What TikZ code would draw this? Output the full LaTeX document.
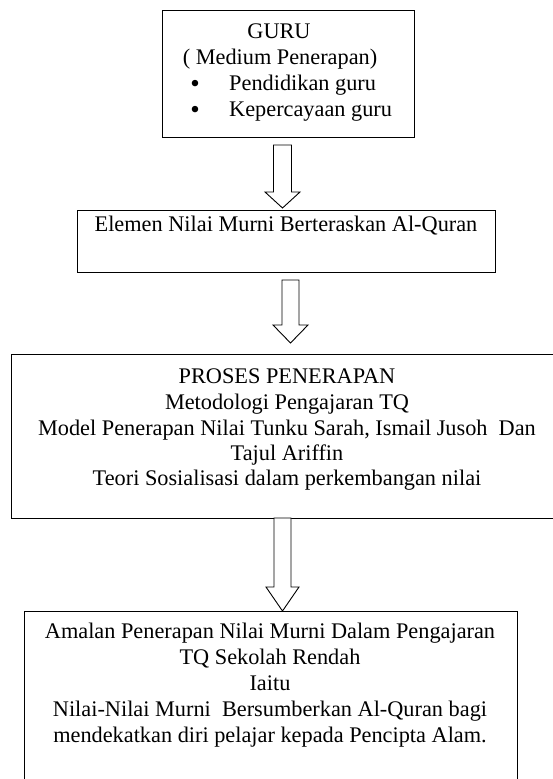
\documentclass[tikz,border=0pt]{standalone}
\usepackage{fontspec}
\setmainfont{Liberation Serif}
\usetikzlibrary{calc}
\tikzset{
  boxnode/.style={draw, line width=1.3pt, inner sep=0pt, anchor=north west},
  txt/.style={inner sep=0pt, font=\fontsize{22.3}{26}\selectfont, anchor=base},
  txtw/.style={txt, anchor=base west},
  bul/.style={inner sep=0pt, font=\fontsize{27}{27}\selectfont, anchor=base},
  barrow/.style={draw, fill=white, line width=0.9pt, line join=miter},
}
\newcommand\blockarrow[5]{%
  \draw[barrow] ($(#1)+(-#4,0)$) -- ($(#1)+(#4,0)$) -- ($(#2)+(#4,-#3)$) -- ($(#2)+(#5,-#3)$)
    -- (#2) -- ($(#2)+(-#5,-#3)$) -- ($(#2)+(-#4,-#3)$) -- cycle;}
\begin{document}
\begin{tikzpicture}[x=1pt,y=-1pt]
\useasboundingbox (0,0) rectangle (553,779);
\clip (0,0) rectangle (553,779);
% boxes
\node[boxnode, minimum width=252pt, minimum height=127pt] (b1) at (162,10) {};
\node[boxnode, minimum width=418pt, minimum height=62pt] (b2) at (77,210) {};
\node[boxnode, minimum width=560pt, minimum height=164pt] (b3) at (11,354) {};
\node[boxnode, minimum width=493pt, minimum height=220pt] (b4) at (24,611) {};
% box 1 text
\node[txt] (t1a) at (279,38) {GURU};
\node[txt] (t1b) at (280,64) {( Medium Penerapan)};
\node[bul] (bu1) at (195,92) {•};
\node[txtw] (t1c) at (229,90) {Pendidikan guru};
\node[bul] (bu2) at (195,118) {•};
\node[txtw] (t1d) at (229,116) {Kepercayaan guru};
% box 2 text
\node[txt] (t2) at (286,231) {Elemen Nilai Murni Berteraskan Al-Quran};
% box 3 text
\node[txt] (t3a) at (287,383) {PROSES PENERAPAN};
\node[txt] (t3b) at (287,409) {Metodologi Pengajaran TQ};
\node[txt] (t3c) at (287,435) {Model Penerapan Nilai Tunku Sarah, Ismail Jusoh~ Dan};
\node[txt] (t3d) at (287,460) {Tajul Ariffin};
\node[txt] (t3e) at (287,485) {Teori Sosialisasi dalam perkembangan nilai};
% box 4 text
\node[txt] (t4a) at (270,638) {Amalan Penerapan Nilai Murni Dalam Pengajaran};
\node[txt] (t4b) at (270,664) {TQ Sekolah Rendah};
\node[txt] (t4c) at (270,690) {Iaitu};
\node[txt] (t4d) at (270,716) {Nilai-Nilai Murni~ Bersumberkan Al-Quran bagi};
\node[txt] (t4e) at (270,742) {mendekatkan diri pelajar kepada Pencipta Alam.};
% arrows
\coordinate (a1top) at (282.5,145);
\coordinate (a1tip) at (282.5,208);
\coordinate (a2top) at (290.5,280);
\coordinate (a2tip) at (290.5,343);
\coordinate (a3top) at (282.5,518);
\coordinate (a3tip) at (282.5,611);
\blockarrow{a1top}{a1tip}{16}{9}{17.5}
\blockarrow{a2top}{a2tip}{18}{8.5}{17.5}
\blockarrow{a3top}{a3tip}{24}{8.5}{16.5}
\end{tikzpicture}
\end{document}
